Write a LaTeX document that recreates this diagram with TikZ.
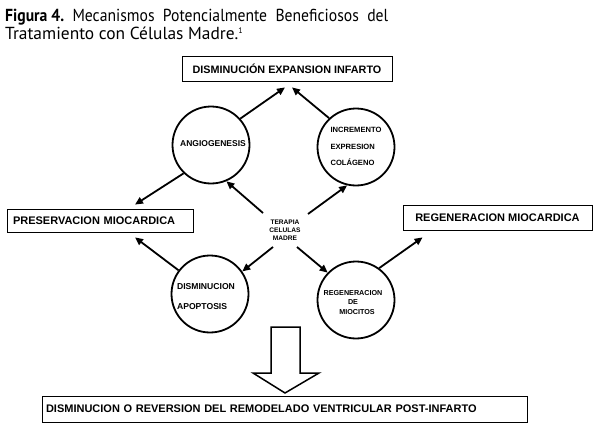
\documentclass[tikz,border=0pt]{standalone}
\usepackage{fontspec}
\setmainfont{PT Sans}
\newfontfamily\diag{Liberation Sans}
\usetikzlibrary{arrows.meta}
\begin{document}
\begin{tikzpicture}[x=1pt,y=-1pt,
  arr/.style={line width=1.8pt,-{Triangle[length=8pt,width=7pt]}},
  ring/.style={circle,draw,line width=1.8pt,minimum size=77pt,inner sep=0pt},
  box/.style={draw,line width=0.8pt,inner ysep=0pt},
  lbl/.style={inner sep=0pt,font=\diag\bfseries},
  title/.style={inner sep=0pt,anchor=base west,font=\fontsize{17.4}{19}\selectfont}]
\useasboundingbox (0,0) rectangle (595,428);
% title
\node[title] (t1) at (5,22) {\resizebox{383pt}{\height}{\textbf{Figura 4.}\ \ Mecanismos\ \ Potencialmente\ \ Beneficiosos\ \ del}};
\node[title] (t2) at (5,40) {Tratamiento con Células Madre.\textsuperscript{\fontsize{8}{8}\selectfont 1}};
% boxes
\node[box,minimum width=210pt,minimum height=25pt,font=\diag\bfseries\fontsize{10.8}{12}\selectfont] (topbox) at (287,68.5) {DISMINUCIÓN EXPANSION INFARTO};
\node[box,minimum height=23pt,inner xsep=6pt,text width=174pt,align=left,font=\diag\bfseries\fontsize{11}{12}\selectfont] (preserv) at (100,220.5) {PRESERVACION MIOCARDICA};
\node[box,minimum height=25pt,minimum width=189pt,font=\diag\bfseries\fontsize{11}{12}\selectfont] (regenbox) at (497.5,217.5) {REGENERACION MIOCARDICA};
\node[box,minimum height=26pt,inner xsep=4pt,text width=477pt,align=left,font=\diag\bfseries\fontsize{11}{12}\selectfont] (bottombox) at (284.5,409) {DISMINUCION O REVERSION DEL REMODELADO VENTRICULAR POST-INFARTO};
% circles
\node[ring] (angio) at (211,145) {};
\node[ring] (incre) at (356,147) {};
\node[ring] (dismin) at (210,294) {};
\node[ring] (regenc) at (356,300) {};
% circle texts
\node[lbl,font=\diag\bfseries\fontsize{8.5}{10}\selectfont] (angiotxt) at (213,144) {ANGIOGENESIS};
\node[lbl,align=left,font=\diag\bfseries\fontsize{7.6}{16.5}\selectfont] (incretxt) at (356,146.5) {INCREMENTO\\EXPRESION\\COLÁGENO};
\node[lbl,align=left,font=\diag\bfseries\fontsize{8.6}{20}\selectfont] (dismintxt) at (206,297) {DISMINUCION\\APOPTOSIS};
\node[lbl,align=center,font=\diag\bfseries\fontsize{7.2}{9.5}\selectfont] (regenctxt) at (353,302.5) {REGENERACION\\DE\\\hspace*{8pt}MIOCITOS};
\node[lbl,align=center,font=\diag\bfseries\fontsize{6.6}{8.2}\selectfont] (terapia) at (285,230) {TERAPIA\\CELULAS\\MADRE};
% connectors
\draw[arr] (angio.42) -- ([xshift=-2pt,yshift=-6pt]topbox.south);
\draw[arr] (incre.133) -- ([xshift=5pt,yshift=-6pt]topbox.south);
\draw[arr] (angio.226) -- ([xshift=35pt,yshift=4pt]preserv.north);
\draw[arr] (dismin.143) -- ([xshift=35pt,yshift=-5pt]preserv.south);
\draw[arr] ([shift={(-22pt,17pt)}]terapia.center) -- (angio.-67);
\draw[arr] ([shift={(23pt,16pt)}]terapia.center) -- (incre.257);
\draw[arr] ([shift={(-12pt,-17pt)}]terapia.center) -- (dismin.35);
\draw[arr] ([shift={(12pt,-17pt)}]terapia.center) -- (regenc.136);
\draw[arr] (regenc.54) -- ([xshift=20pt,yshift=-7pt]regenbox.south west);
% hollow arrow
\draw[line width=1.5pt,line join=miter] (271,327) -- (300,327) -- (300,373) -- (319,373) -- (285,393) -- (253,373) -- (271,373) -- cycle;
\end{tikzpicture}
\end{document}
